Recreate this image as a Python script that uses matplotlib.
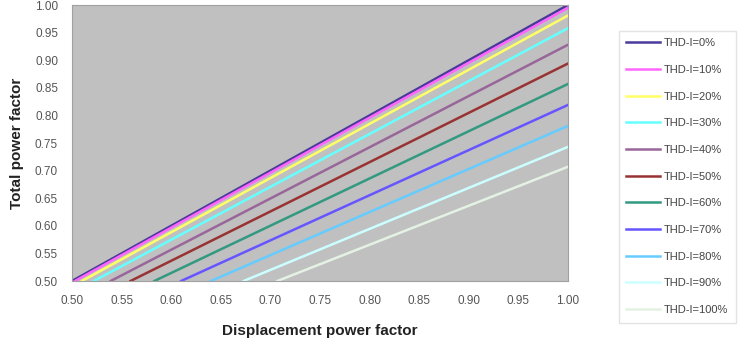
import matplotlib
matplotlib.use('Agg')
import matplotlib.pyplot as plt

plt.rcParams['font.family'] = ['Liberation Sans', 'DejaVu Sans']

thd_labels = ['THD-I=0%', 'THD-I=10%', 'THD-I=20%', 'THD-I=30%', 'THD-I=40%',
              'THD-I=50%', 'THD-I=60%', 'THD-I=70%', 'THD-I=80%', 'THD-I=90%',
              'THD-I=100%']
# displacement PF where each curve leaves the 0.50 floor
dpf_start = [0.500, 0.503, 0.510, 0.522, 0.539, 0.559, 0.583, 0.610, 0.640, 0.673, 0.707]
# total PF read at displacement PF = 1.00
tpf_end = [1.000, 0.995, 0.981, 0.958, 0.928, 0.894, 0.857, 0.819, 0.781, 0.743, 0.707]
colors = ['#4a3a9a', '#ff66ff', '#ffff66', '#66ffff', '#996699', '#993333',
          '#339980', '#6655ff', '#66ccff', '#ccffff', '#e4f2e4']

xticks = [0.50, 0.55, 0.60, 0.65, 0.70, 0.75, 0.80, 0.85, 0.90, 0.95, 1.00]
yticks = [0.50, 0.55, 0.60, 0.65, 0.70, 0.75, 0.80, 0.85, 0.90, 0.95, 1.00]

fig = plt.figure(figsize=(7.45, 3.56), dpi=100)
ax = fig.add_axes([72 / 745, 75 / 356, 496 / 745, 276 / 356])
ax.set_facecolor('#c0c0c0')

handles = []
for lab, x0, y1, c in zip(thd_labels, dpf_start, tpf_end, colors):
    h, = ax.plot([x0, 1.0], [0.5, y1], color=c, lw=1.8, label=lab)
    handles.append(h)

ax.set_xlim(0.5, 1.0)
ax.set_ylim(0.5, 1.0)
ax.set_xticks(xticks)
ax.set_yticks(yticks)
ax.set_xticklabels(['%.2f' % v for v in xticks])
ax.set_yticklabels(['%.2f' % v for v in yticks])
ax.tick_params(length=0, labelsize=8.5, labelcolor='#555555', pad=10)
for s in ax.spines.values():
    s.set_color('#a0a0a0')
    s.set_linewidth(0.8)

ax.set_xlabel('Displacement power factor', fontsize=11, fontweight='bold',
              color='#222222', labelpad=12)
ax.set_ylabel('Total power factor', fontsize=11, fontweight='bold',
              color='#222222', labelpad=8)

leg = fig.legend(handles=handles, loc='upper left',
                 bbox_to_anchor=(613 / 745, 1 - 25 / 356),
                 fontsize=8, frameon=True, fancybox=False,
                 edgecolor='#dddddd', handlelength=3.0, labelspacing=1.5,
                 borderpad=0.7, handletextpad=0.4)
for t in leg.get_texts():
    t.set_color('#444444')

fig.savefig('out.png', dpi=100)
